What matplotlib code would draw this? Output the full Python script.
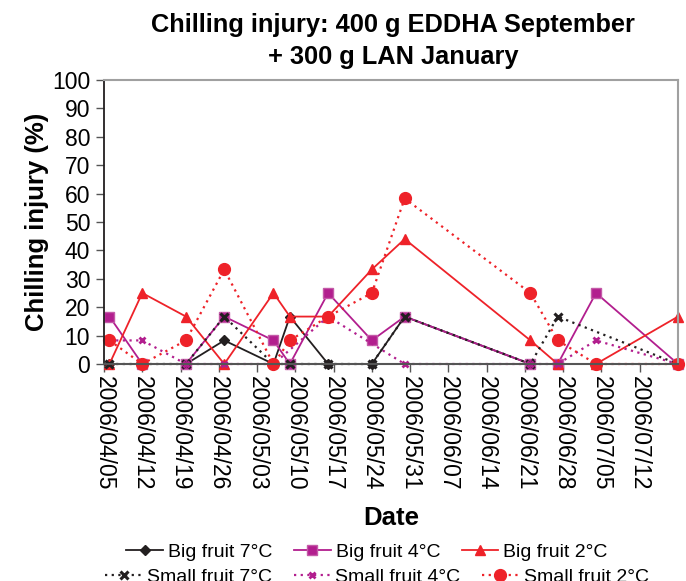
import numpy as np
import matplotlib
matplotlib.use('Agg')
from matplotlib import pyplot as plt
import matplotlib.dates as mdates

plt.rcParams['font.family'] = ['Liberation Sans', 'DejaVu Sans']

# sampling dates and injury (%) per series, None = not sampled
dates = np.array(['2006-04-06', '2006-04-12', '2006-04-20', '2006-04-27',
                  '2006-05-06', '2006-05-09', '2006-05-16', '2006-05-24',
                  '2006-05-30', '2006-06-22', '2006-06-27', '2006-07-04',
                  '2006-07-19'], dtype='datetime64[D]')

big_7 = [0, 0, 0, 8.3, 0, 16.7, 0, 0, 16.7, 0, 0, 0, 0]
big_4 = [16.7, 0, 0, 16.7, 8.3, 0, 25, 8.3, 16.7, 0, 0, 25, 0]
big_2 = [0, 25, 16.7, 0, 25, 16.7, 16.7, 33.3, 44, 8.3, 0, 0, 16.7]
small_7 = [0, 0, 0, 16.7, 0, 0, 0, 0, 16.7, 0, 16.7, None, 0]
small_4 = [8.3, 8.3, 0, 0, 0, None, 16.7, None, 0, 0, 0, 8.3, 0]
small_2 = [8.3, 0, 8.3, 33.3, 0, 8.3, 16.7, 25, 58.3, 25, 8.3, 0, 0]

labels = ['Big fruit 7\u00b0C', 'Big fruit 4\u00b0C', 'Big fruit 2\u00b0C',
          'Small fruit 7\u00b0C', 'Small fruit 4\u00b0C', 'Small fruit 2\u00b0C']

tick_dates = np.arange(np.datetime64('2006-04-05'), np.datetime64('2006-07-13'),
                       np.timedelta64(7, 'D'))

black = '#231F20'
purple = '#B21E8E'
red = '#EE2229'
dot = (0, (1, 2))

styles = [
    dict(color=black, ls='-', marker='D', ms=5, mec=black, mfc=black),
    dict(color=purple, ls='-', marker='s', ms=7.5, mec='#C45AA8', mfc=purple),
    dict(color=red, ls='-', marker='^', ms=7.5, mec=red, mfc=red),
    dict(color=black, ls=dot, marker='x', ms=6, mec=black, mew=2.2),
    dict(color=purple, ls=dot, marker='x', ms=4.5, mec=purple, mew=2),
    dict(color=red, ls=dot, marker='o', ms=8.5, mec=red, mfc=red),
]

fig = plt.figure(figsize=(6.86, 5.81), dpi=100)
ax = fig.add_axes([104/686, 1-364/581, 574/686, 284/581])

handles = []
for series, st, lab in zip([big_7, big_4, big_2, small_7, small_4, small_2], styles, labels):
    y = np.array([np.nan if v is None else v for v in series], dtype=float)
    keep = ~np.isnan(y)
    lw = 1.3 if st['ls'] == '-' else 1.6
    h, = ax.plot(dates[keep], y[keep], lw=lw, label=lab, clip_on=False, **st)
    handles.append(h)

ax.set_xlim(np.datetime64('2006-04-05'), np.datetime64('2006-07-19'))
ax.set_ylim(0, 100)
ax.set_yticks(np.arange(0, 101, 10))
ax.set_xticks(tick_dates)
ax.xaxis.set_major_formatter(mdates.DateFormatter('%Y/%m/%d'))
ax.tick_params(axis='x', labelrotation=270, labelsize=16.5, length=6, width=1,
               color='#555555', pad=3)
ax.tick_params(axis='y', labelsize=16.5, length=6, width=1, color='#555555', pad=4)
for t in ax.get_xticklabels():
    t.set_va('top')
    t.set_ha('center')

for side in ['top', 'right']:
    ax.spines[side].set_color('#A0A0A0')
    ax.spines[side].set_linewidth(1.5)
ax.spines['left'].set_color(black)
ax.spines['left'].set_linewidth(1.3)
ax.spines['bottom'].set_color('#555555')
ax.spines['bottom'].set_linewidth(1.5)

ax.set_ylabel('Chilling injury (%)', fontsize=18.5, fontweight='bold', labelpad=2)
ax.set_xlabel('Date', fontsize=18.5, fontweight='bold', labelpad=11)
fig.text(393/686, 1-41/581, 'Chilling injury: 400 g EDDHA September\n+ 300 g LAN January',
         ha='center', va='center', fontsize=18.3, fontweight='bold', linespacing=1.42)

leg_kw = dict(loc='center', ncol=3, frameon=False, fontsize=14, handlelength=1.9,
              handletextpad=0.25, columnspacing=1.1, borderpad=0, borderaxespad=0)
fig.legend(handles[:3], labels[:3], bbox_to_anchor=(367/686, 1-552/581), **leg_kw)
fig.legend(handles[3:], labels[3:], bbox_to_anchor=(377/686, 1-577/581), **leg_kw)

fig.savefig('out.png', dpi=100)
